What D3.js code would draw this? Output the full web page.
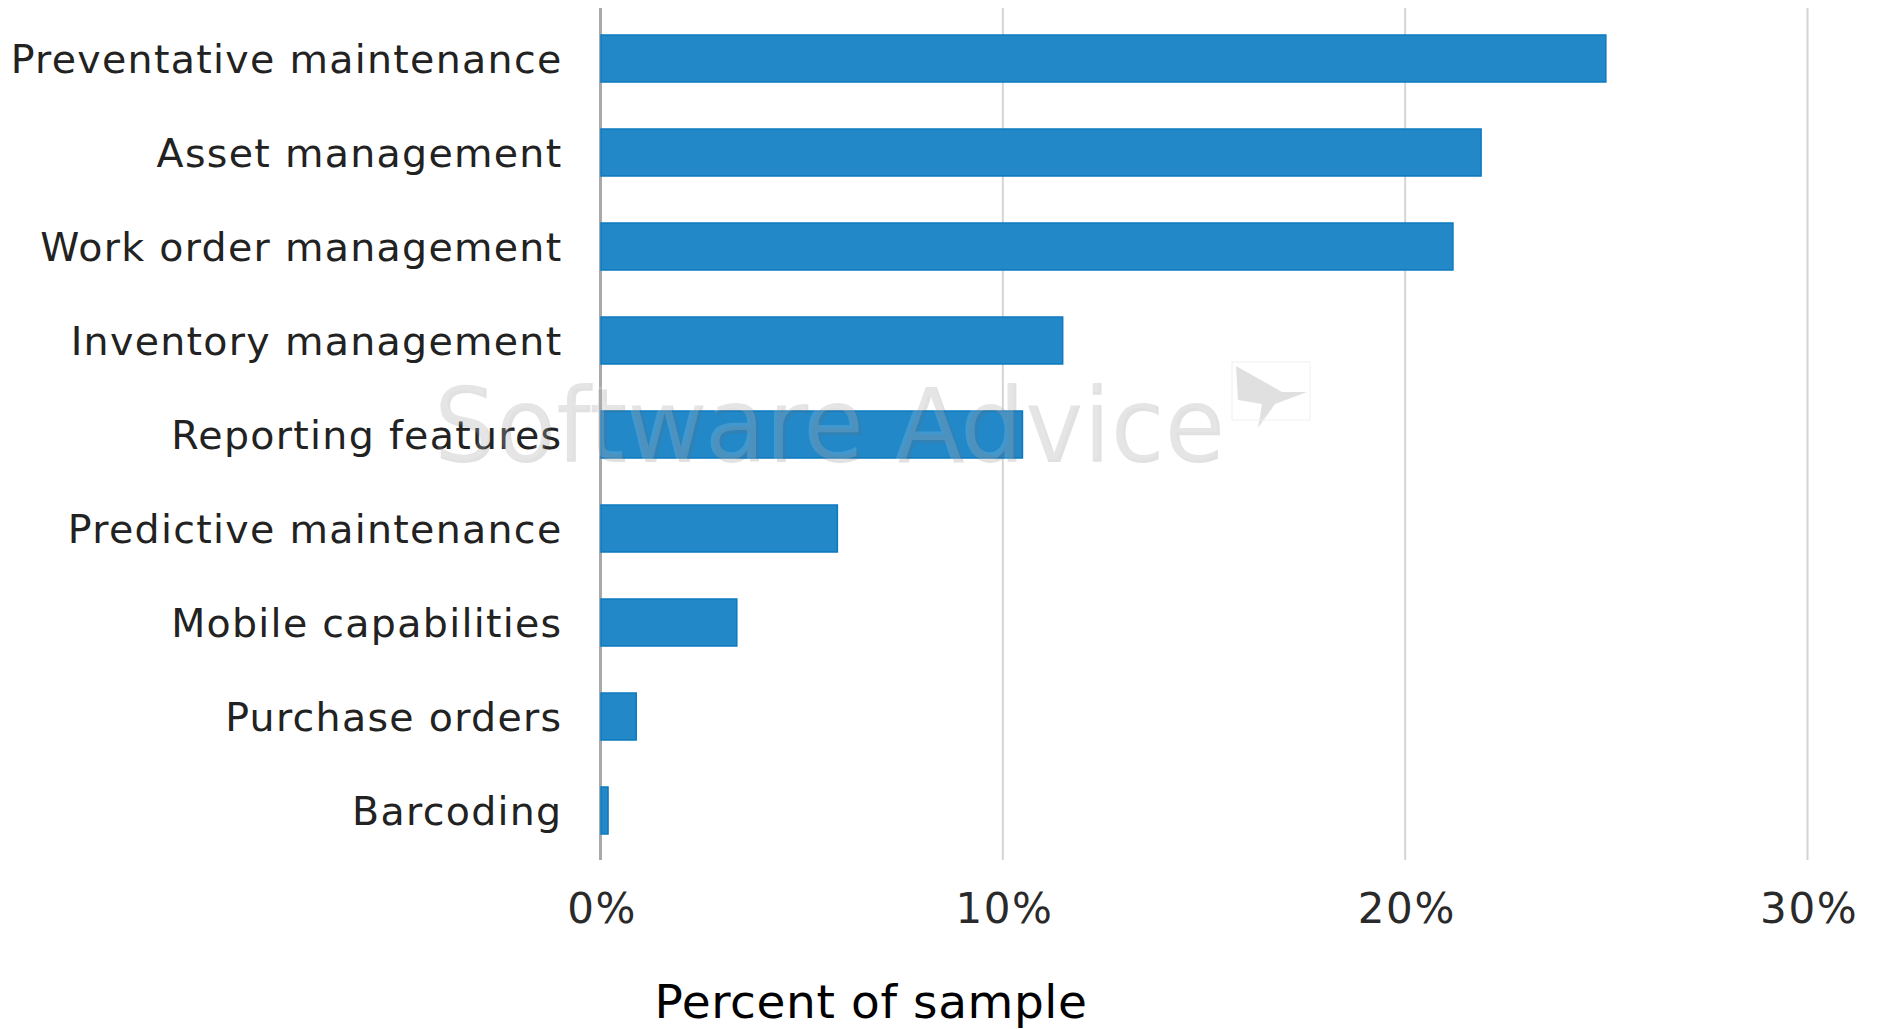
<!DOCTYPE html>
<html>
<head>
<meta charset="utf-8">
<script src="https://cdn.jsdelivr.net/npm/d3@7/dist/d3.min.js"></script>
<style>
  html, body { margin: 0; padding: 0; background: #ffffff; }
  svg { display: block; }
</style>
</head>
<body>
<svg id="chart" width="1879" height="1029"></svg>
<script>
// Share of respondents naming each feature
const categories = [
  "Preventative maintenance",
  "Asset management",
  "Work order management",
  "Inventory management",
  "Reporting features",
  "Predictive maintenance",
  "Mobile capabilities",
  "Purchase orders",
  "Barcoding"
];
const values = [25.0, 21.9, 21.2, 11.5, 10.5, 5.9, 3.4, 0.9, 0.2];
const tickValues = [0, 10, 20, 30];
const tickLabels = ["0%", "10%", "20%", "30%"];
const axisTitle = "Percent of sample";
const watermarkText = "Software Advice";

const svg = d3.select("#chart");
const font = "'DejaVu Sans', Verdana, sans-serif";

const x = d3.scaleLinear().domain([0, 30]).range([600, 1807]);
const y = d3.scaleBand().domain(categories).range([35, 834])
  .paddingInner(0.5).paddingOuter(0);

const gridTop = 8, gridBottom = 860;

// vertical gridlines and percent labels
const xAxis = d3.axisBottom(x)
  .tickValues(tickValues)
  .tickFormat((d, i) => tickLabels[i])
  .tickSize(-(gridBottom - gridTop))
  .tickPadding(33);

const gx = svg.append("g")
  .attr("transform", `translate(0,${gridBottom})`)
  .call(xAxis);
gx.select(".domain").remove();
gx.selectAll(".tick line")
  .attr("stroke", d => d === 0 ? "#a9a9a9" : "#d4d4d4")
  .attr("stroke-width", d => d === 0 ? 3 : 2);
gx.selectAll(".tick text")
  .attr("fill", "#2a2a2a")
  .attr("dx", "0.04em")
  .style("font-family", font)
  .style("font-size", "42px")
  .style("letter-spacing", "1.6px");

// bars
svg.append("g").selectAll("rect")
  .data(values)
  .join("rect")
  .attr("x", x(0) + 1)
  .attr("y", (d, i) => y(categories[i]))
  .attr("width", d => Math.max(0, x(d) - x(0) - 1))
  .attr("height", y.bandwidth())
  .attr("fill", "#2288c8")
  .attr("stroke", "#0c79c0")
  .attr("stroke-width", 1.5);

// category labels
const yAxis = d3.axisLeft(y).tickSize(0).tickPadding(37.5);
const gy = svg.append("g")
  .attr("transform", `translate(${x(0)},0)`)
  .call(yAxis);
gy.select(".domain").remove();
gy.selectAll(".tick text")
  .attr("fill", "#222222")
  .attr("dy", "0.36em")
  .style("font-family", font)
  .style("font-size", "39.5px")
  .style("letter-spacing", "1.3px");

// embossed watermark over the plot
const wm = svg.append("g").attr("pointer-events", "none");
wm.append("text")
  .attr("x", 434).attr("y", 462)
  .attr("textLength", 791).attr("lengthAdjust", "spacingAndGlyphs")
  .style("font-family", font).style("font-size", "104px")
  .attr("fill", "#6a6a6a").attr("fill-opacity", 0.2)
  .text(watermarkText);
wm.append("text")
  .attr("x", 431).attr("y", 459)
  .attr("textLength", 791).attr("lengthAdjust", "spacingAndGlyphs")
  .style("font-family", font).style("font-size", "104px")
  .attr("fill", "#ffffff").attr("fill-opacity", 0.14)
  .text(watermarkText);

// watermark logo mark
wm.append("path")
  .attr("d", "M1236,366 L1282,392 L1307,392 L1275,404 L1258,428 L1262,404 L1238,400 Z")
  .attr("fill", "#cfcfcf").attr("fill-opacity", 0.65);
wm.append("rect")
  .attr("x", 1232).attr("y", 362).attr("width", 78).attr("height", 58)
  .attr("fill", "none").attr("stroke", "#f0f0f0").attr("stroke-width", 1);

// axis title
svg.append("text")
  .attr("x", 871).attr("y", 1018)
  .attr("text-anchor", "middle")
  .attr("fill", "#000000")
  .style("font-family", font)
  .style("font-size", "47px")
  .style("letter-spacing", "0.6px")
  .text(axisTitle);
</script>
</body>
</html>
